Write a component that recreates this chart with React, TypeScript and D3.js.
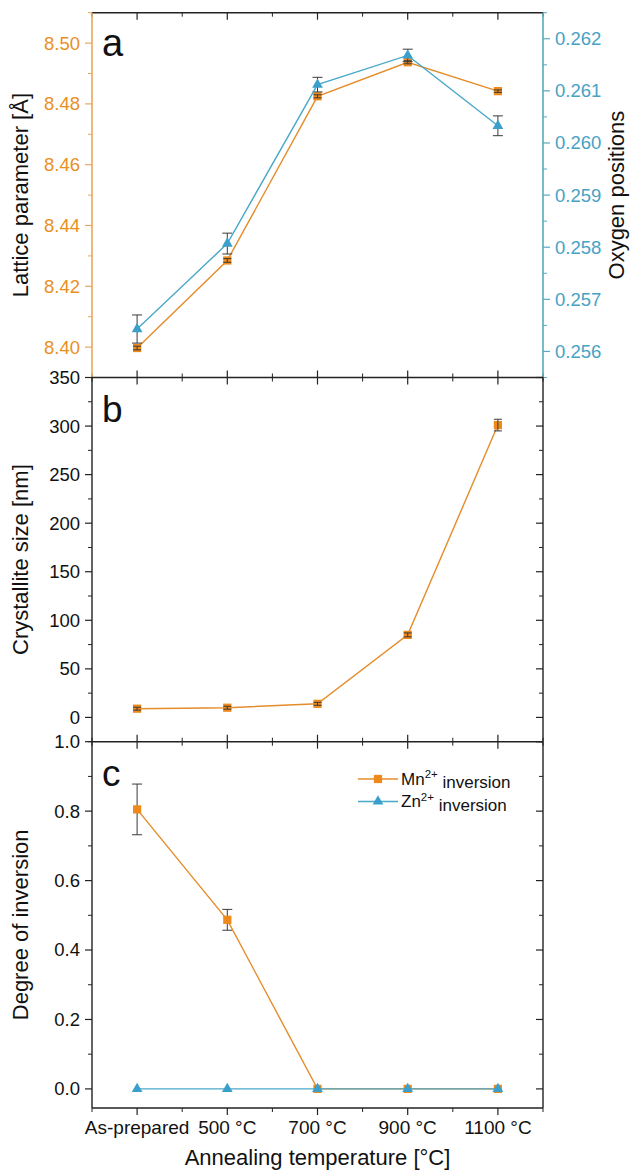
import React from "react";
import * as d3 from "d3";

const categories = ["As-prepared", "500 °C", "700 °C", "900 °C", "1100 °C"];
const latticeParam = [8.3997, 8.4285, 8.4825, 8.4937, 8.4842];
const latticeErr = [0.0006, 0.0006, 0.0005, 0.0005, 0.0004];
const oxygenPos = [0.25643, 0.25807, 0.26112, 0.26168, 0.26033];
const oxygenErr = [0.00027, 0.0002, 0.00014, 0.00012, 0.00019];
const crystSize = [9, 10, 14, 85, 301];
const crystErr = [1.5, 1.5, 1.5, 2, 6];
const mnInv = [0.805, 0.487, 0, 0, 0];
const mnErr = [0.073, 0.03, 0, 0, 0];
const znInv = [0, 0, 0, 0, 0];
const legendLabels = ["Mn", "Zn"];

const FONT = "Liberation Sans, Arial, Helvetica, sans-serif";
const ORANGE = "#EE8A1C";
const ORANGE_LINE = "#E58C2A";
const ORANGE_AXIS = "#E7A85E";
const ORANGE_TEXT = "#E8901F";
const BLUE = "#3A9FCB";
const BLUE_LINE = "#4AA8C8";
const BLUE_AXIS = "#5AA7BF";
const BLUE_TEXT = "#47A2C4";
const ERR = "#3a3a3a";

const xL = 92, xR = 543;
const pA = { top: 12.7, bottom: 377.5 };
const pB = { top: 377.5, bottom: 741.7 };
const pC = { top: 741.7, bottom: 1108 };

const x = d3.scaleLinear().domain([-0.5, categories.length - 0.5]).range([xL, xR]);
const yLat = d3.scaleLinear().domain([8.39, 8.51]).range([pA.bottom, pA.top]);
const yOx = d3.scaleLinear().domain([0.2555, 0.2625]).range([pA.bottom, pA.top]);
const yCr = d3.scaleLinear().domain([-25, 350]).range([pB.bottom, pB.top]);
const yInv = d3.scaleLinear().domain([-0.055, 1.0]).range([pC.bottom, pC.top]);

const sq = d3.symbol().type(d3.symbolSquare).size(68)();
const tri = d3.symbol().type(d3.symbolTriangle).size(50)();

function YTicks({ scale, major, minor, side, inward, color, lineColor, fmt, labels = true, xPos }: any) {
  const dir = (side === "left" ? -1 : 1) * (inward ? -1 : 1);
  return (
    <g>
      {minor.map((v: number, i: number) => (
        <line key={"m" + i} x1={xPos} x2={xPos + dir * 4} y1={scale(v)} y2={scale(v)} stroke={lineColor} strokeWidth={1} />
      ))}
      {major.map((v: number, i: number) => (
        <g key={"M" + i}>
          <line x1={xPos} x2={xPos + dir * 7} y1={scale(v)} y2={scale(v)} stroke={lineColor} strokeWidth={1.2} />
          {labels && (
            <text
              x={side === "left" ? xPos - 12 : xPos + 12}
              y={scale(v)}
              dy="0.35em"
              textAnchor={side === "left" ? "end" : "start"}
              fontSize={18.5}
              fill={color}
              fontFamily={FONT}
            >
              {fmt(v)}
            </text>
          )}
        </g>
      ))}
    </g>
  );
}

function XTicks({ yPos, dir }: any) {
  const majors = d3.range(0, categories.length);
  const minors = d3.range(-0.5, categories.length, 1);
  return (
    <g>
      {majors.map((v) => (
        <line key={"M" + v} x1={x(v)} x2={x(v)} y1={yPos} y2={yPos + dir * 7} stroke="#222" strokeWidth={1.2} />
      ))}
      {minors.map((v, i) => (
        <line key={"m" + i} x1={x(v)} x2={x(v)} y1={yPos} y2={yPos + dir * 4} stroke="#222" strokeWidth={1} />
      ))}
    </g>
  );
}

function ErrBars({ vals, errs, scale, cap = 5 }: any) {
  return (
    <g>
      {vals.map((v: number, i: number) => {
        const e = errs[i];
        if (!e) return null;
        const y1 = scale(v - e), y2 = scale(v + e);
        return (
          <g key={i} stroke={ERR} strokeWidth={1}>
            <line x1={x(i)} x2={x(i)} y1={y1} y2={y2} />
            <line x1={x(i) - cap} x2={x(i) + cap} y1={y1} y2={y1} />
            <line x1={x(i) - cap} x2={x(i) + cap} y1={y2} y2={y2} />
          </g>
        );
      })}
    </g>
  );
}

function Series({ vals, scale, color, lineColor, marker }: any) {
  const line = d3.line<number>().x((_, i) => x(i)).y((d) => scale(d));
  return (
    <g>
      <path d={line(vals) || ""} fill="none" stroke={lineColor} strokeWidth={1.4} />
      {vals.map((v: number, i: number) => (
        <path key={i} d={marker} transform={`translate(${x(i)},${scale(v)})`} fill={color} />
      ))}
    </g>
  );
}

export default function App() {
  const latMajor = d3.range(8.4, 8.5001, 0.02);
  const latMinor = d3.range(8.39, 8.5101, 0.01).filter((v) => !latMajor.some((m) => Math.abs(m - v) < 1e-6));
  const oxMajor = d3.range(0.256, 0.26201, 0.001);
  const oxMinor = d3.range(0.2555, 0.2626, 0.0005).filter((v) => !oxMajor.some((m) => Math.abs(m - v) < 1e-7));
  const crMajor = d3.range(0, 351, 50);
  const crMinor = d3.range(-25, 351, 25).filter((v) => v % 50 !== 0);
  const invMajor = d3.range(0, 1.0001, 0.2);
  const invMinor = d3.range(0.1, 1.0, 0.2);

  return (
    <svg width={632} height={1171} style={{ position: "absolute", left: 0, top: 0, background: "#fff" }} fontFamily={FONT}>
      <rect width={632} height={1171} fill="#fff" />

      {/* Panel a */}
      <g>
        <line x1={xL} x2={xR} y1={pA.top} y2={pA.top} stroke="#222" strokeWidth={1.4} />
        <XTicks yPos={pA.top} dir={1} />
        <XTicks yPos={pA.bottom} dir={-1} />
        <line x1={xL} x2={xL} y1={pA.top} y2={pA.bottom} stroke={ORANGE_AXIS} strokeWidth={1.6} />
        <line x1={xR} x2={xR} y1={pA.top} y2={pA.bottom} stroke={BLUE_AXIS} strokeWidth={1.6} />
        <YTicks scale={yLat} major={latMajor} minor={latMinor} side="left" color={ORANGE_TEXT} lineColor={ORANGE_AXIS} fmt={d3.format(".2f")} xPos={xL} />
        <YTicks scale={yOx} major={oxMajor} minor={oxMinor} side="right" color={BLUE_TEXT} lineColor={BLUE_AXIS} fmt={d3.format(".3f")} xPos={xR} />
        <Series vals={latticeParam} scale={yLat} color={ORANGE} lineColor={ORANGE_LINE} marker={sq} />
        <ErrBars vals={latticeParam} errs={latticeErr} scale={yLat} cap={4} />
        <ErrBars vals={oxygenPos} errs={oxygenErr} scale={yOx} cap={5} />
        <Series vals={oxygenPos} scale={yOx} color={BLUE} lineColor={BLUE_LINE} marker={tri} />
        <text x={102} y={56} fontSize={38} fill="#111">a</text>
        <text transform={`translate(28,${(pA.top + pA.bottom) / 2}) rotate(-90)`} textAnchor="middle" fontSize={22} fill="#111">
          Lattice parameter [Å]
        </text>
        <text transform={`translate(624,${(pA.top + pA.bottom) / 2}) rotate(-90)`} textAnchor="middle" fontSize={22} fill="#111">
          Oxygen positions
        </text>
      </g>

      {/* Panel b */}
      <g>
        <XTicks yPos={pB.top} dir={1} />
        <XTicks yPos={pB.bottom} dir={-1} />
        <line x1={xL} x2={xL} y1={pB.top} y2={pB.bottom} stroke="#222" strokeWidth={1.4} />
        <line x1={xR} x2={xR} y1={pB.top} y2={pB.bottom} stroke="#222" strokeWidth={1.4} />
        <YTicks scale={yCr} major={crMajor} minor={crMinor} side="left" color="#111" lineColor="#222" fmt={d3.format("d")} xPos={xL} />
        <YTicks scale={yCr} major={crMajor} minor={crMinor} side="right" inward labels={false} color="#111" lineColor="#222" fmt={d3.format("d")} xPos={xR} />
        <Series vals={crystSize} scale={yCr} color={ORANGE} lineColor={ORANGE_LINE} marker={sq} />
        <ErrBars vals={crystSize} errs={crystErr} scale={yCr} cap={4} />
        <text x={102} y={422} fontSize={37} fill="#111">b</text>
        <text transform={`translate(28,${(pB.top + pB.bottom) / 2}) rotate(-90)`} textAnchor="middle" fontSize={22} fill="#111">
          Crystallite size [nm]
        </text>
      </g>

      {/* Panel c */}
      <g>
        <XTicks yPos={pC.top} dir={1} />
        <XTicks yPos={pC.bottom} dir={1} />
        <line x1={xL} x2={xR} y1={pA.bottom} y2={pA.bottom} stroke="#222" strokeWidth={1.4} />
        <line x1={xL} x2={xR} y1={pB.bottom} y2={pB.bottom} stroke="#222" strokeWidth={1.4} />
        <line x1={xL} x2={xR} y1={pC.bottom} y2={pC.bottom} stroke="#222" strokeWidth={1.4} />
        <line x1={xL} x2={xL} y1={pC.top} y2={pC.bottom} stroke="#222" strokeWidth={1.4} />
        <line x1={xR} x2={xR} y1={pC.top} y2={pC.bottom} stroke="#222" strokeWidth={1.4} />
        <YTicks scale={yInv} major={invMajor} minor={invMinor} side="left" color="#111" lineColor="#222" fmt={d3.format(".1f")} xPos={xL} />
        <YTicks scale={yInv} major={invMajor} minor={invMinor} side="right" inward labels={false} color="#111" lineColor="#222" fmt={d3.format(".1f")} xPos={xR} />
        <ErrBars vals={mnInv} errs={mnErr} scale={yInv} cap={5} />
        <Series vals={mnInv} scale={yInv} color={ORANGE} lineColor={ORANGE_LINE} marker={sq} />
        <Series vals={znInv} scale={yInv} color={BLUE} lineColor={BLUE_LINE} marker={tri} />
        <text x={102} y={786} fontSize={37} fill="#111">c</text>
        <text transform={`translate(28,${(pC.top + pC.bottom) / 2}) rotate(-90)`} textAnchor="middle" fontSize={22} fill="#111">
          Degree of inversion
        </text>
        {categories.map((c, i) => (
          <text key={c} x={x(i)} y={1127} dy="0.35em" textAnchor="middle" fontSize={19} fill="#111">
            {c}
          </text>
        ))}
        <text x={(xL + xR) / 2} y={1165} textAnchor="middle" fontSize={22} fill="#111">
          Annealing temperature [°C]
        </text>

        {/* legend */}
        {legendLabels.map((lab, i) => {
          const ly = 779 + i * 22.5;
          const col = i === 0 ? ORANGE : BLUE;
          const lcol = i === 0 ? ORANGE_LINE : BLUE_LINE;
          return (
            <g key={lab}>
              <line x1={358} x2={398} y1={ly} y2={ly} stroke={lcol} strokeWidth={1.4} />
              <path d={i === 0 ? sq : tri} transform={`translate(378,${ly})`} fill={col} />
              <text x={401} y={ly} dy="0.35em" fontSize={17} fill="#111">
                {lab}
                <tspan fontSize={11.5} dy="-0.6em">2+</tspan>
                <tspan dy="0.6em" fontSize={17}> inversion</tspan>
              </text>
            </g>
          );
        })}
      </g>
    </svg>
  );
}
